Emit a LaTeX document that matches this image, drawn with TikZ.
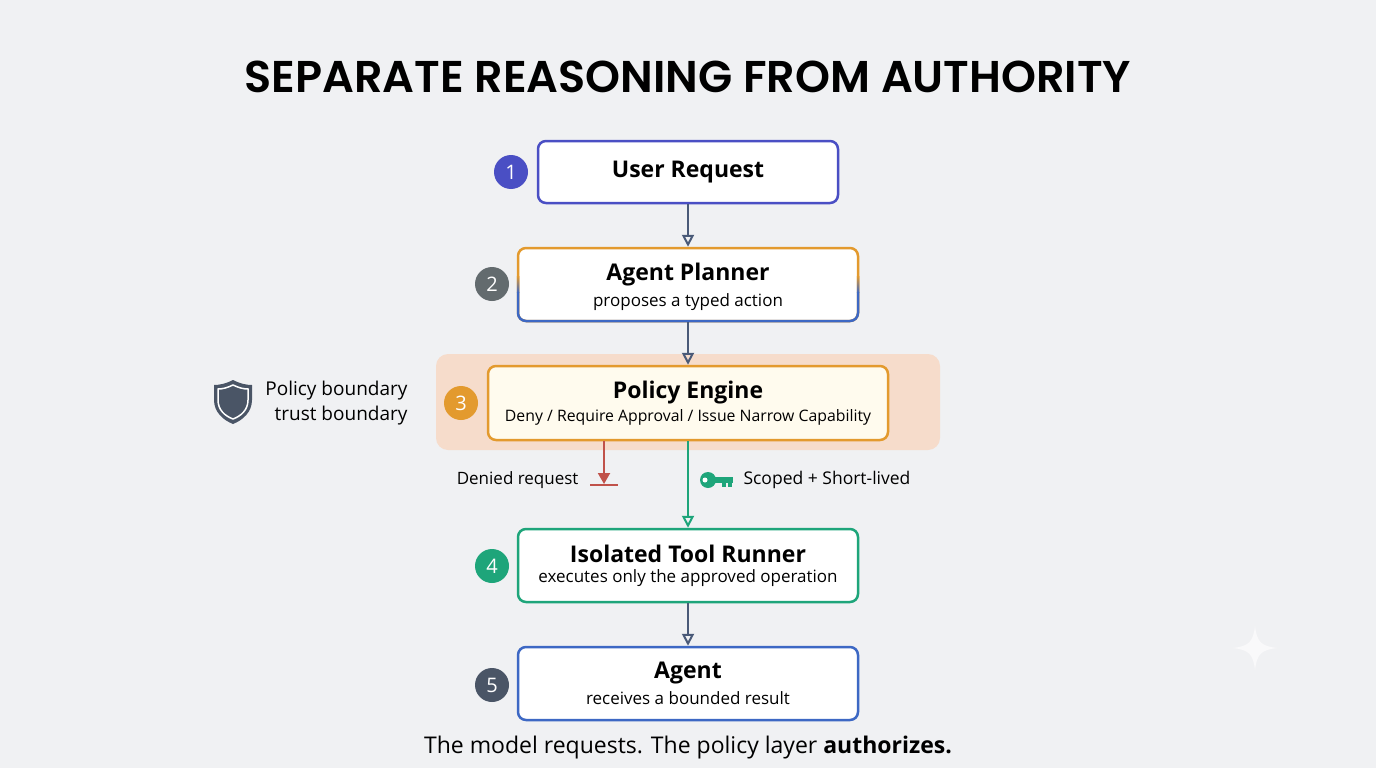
\documentclass[tikz,border=0pt]{standalone}
\usepackage{fontspec}
\setmainfont{Open Sans}
\newfontfamily\titlefont{Poppins}[UprightFont=* SemiBold]
\usetikzlibrary{arrows.meta}
\definecolor{bg}{HTML}{F0F1F3}
\definecolor{cblue}{HTML}{4A4FC4}
\definecolor{cblue2}{HTML}{3D68C4}
\definecolor{corange}{HTML}{E39A2E}
\definecolor{cgreen}{HTML}{1EA57A}
\definecolor{cgray}{HTML}{636B6E}
\definecolor{cslate}{HTML}{4A5566}
\definecolor{carrow}{HTML}{4A5A78}
\definecolor{cred}{HTML}{C0524A}
\definecolor{cpeach}{HTML}{F6DCCB}
\definecolor{cpale}{HTML}{FFFBEE}
\newcommand{\bt}[2]{{\fontsize{23}{26}\selectfont\bfseries #1}\\[6pt]{\fontsize{17}{20}\selectfont #2}}
\begin{document}
\begin{tikzpicture}[x=1pt,y=-1pt,
  box/.style={draw,line width=2.5pt,rounded corners=8pt,fill=white,minimum height=62pt,align=center,inner sep=0pt},
  num/.style={circle,minimum size=34pt,inner sep=0pt,text=white,font=\fontsize{20}{20}\selectfont},
  flow/.style={carrow,line width=2pt,-{Triangle[open,length=12pt,width=12pt,line width=2pt]}},
  sub/.style={font=\fontsize{17.5}{20}\selectfont}]
\useasboundingbox (0,0) rectangle (1376,768);
\fill[bg] (0,0) rectangle (1376,768);
\node[font=\titlefont\fontsize{44.5}{44}\selectfont] (title) at (688,77) {SEPARATE REASONING FROM AUTHORITY};
% policy background
\fill[cpeach,rounded corners=12pt] (436,354) rectangle (940,450);
\node[box,draw=cblue,minimum width=300pt] (b1) at (688,172) {\fontsize{23}{26}\selectfont\bfseries User Request};
\node[box,draw=corange,minimum width=340pt,minimum height=73pt] (b2) at (688,284.5) {};
\begin{scope}
\clip (500,292) rectangle (880,340);
\draw[cblue2,line width=2.5pt,rounded corners=8pt] (518,248) rectangle (858,321);
\end{scope}
\shade[top color=corange,bottom color=cblue2] (516.75,276) rectangle (519.25,292.5) (856.75,276) rectangle (859.25,292.5);
\node[align=center] (t2) at (688,287) {\bt{Agent Planner}{proposes a typed action}};
\node[box,draw=corange,fill=cpale,minimum width=400pt,minimum height=74pt] (b3) at (688,403) {{\fontsize{23}{26}\selectfont\bfseries Policy Engine}\\[5pt]{\fontsize{15.8}{19}\selectfont Deny / Require Approval / Issue Narrow Capability}};
\node[box,draw=cgreen,minimum width=340pt,minimum height=73pt] (b4) at (688,565.5) {\bt{Isolated Tool Runner}{executes only the approved operation}};
\node[box,draw=cblue2,minimum width=340pt,minimum height=73pt] (b5) at (688,683.5) {\bt{Agent}{receives a bounded result}};
\node[num,fill=cblue] (n1) at (511,172) {1};
\node[num,fill=cgray] (n2) at (492,284) {2};
\node[num,fill=corange] (n3) at (461,403) {3};
\node[num,fill=cgreen] (n4) at (492,566) {4};
\node[num,fill=cslate] (n5) at (492,685) {5};
\draw[flow] (b1) -- (b2);
\draw[flow] (b2) -- (b3);
\draw[flow] (b4) -- (b5);
\draw[flow,cgreen] (b3.south) -- (b4.north);
% denied
\coordinate (dstop) at (604,484);
\draw[cred,line width=2pt,-{Triangle[length=11pt,width=12pt]}] (604,441) -- (dstop);
\draw[cred,line width=2.5pt] (590,485) -- (618,485);
\node[anchor=east,font=\fontsize{17}{20}\selectfont] (den) at (582,480) {Denied request};
% key
\begin{scope}[cgreen]
\fill (708,480) circle (8pt);
\fill[white] (705,480) circle (2.5pt);
\fill (714,477) rectangle (733,483);
\fill (722,483) rectangle (726,487);
\fill (728,483) rectangle (732,487);
\end{scope}
\node[anchor=west,sub] (sc) at (740,480) {Scoped + Short-lived};
% shield
\fill[cslate] (233,380) .. controls (241,384) and (247,385) .. (252,385) -- (252,400) .. controls (252,412) and (243,420) .. (233,424) .. controls (223,420) and (214,412) .. (214,400) -- (214,385) .. controls (219,385) and (225,384) .. (233,380) -- cycle;
\draw[white,line width=1.5pt] (233,385) .. controls (239,388) and (244,389) .. (248,389) -- (248,400) .. controls (248,410) and (241,416) .. (233,419) .. controls (225,416) and (218,410) .. (218,400) -- (218,389) .. controls (222,389) and (227,388) .. (233,385) -- cycle;
\node[anchor=east,align=right,font=\fontsize{19}{24.5}\selectfont] (pb) at (411,403) {Policy boundary\\trust boundary};
\node[font=\fontsize{23}{24}\selectfont] (foot) at (688,748) {The model requests. The policy layer \textbf{authorizes.}};
% faint star
\fill[white!60!bg] (1255,626) .. controls (1257,642) and (1261,646) .. (1277,648) .. controls (1261,650) and (1257,654) .. (1255,670) .. controls (1253,654) and (1249,650) .. (1233,648) .. controls (1249,646) and (1253,642) .. (1255,626) -- cycle;
\end{tikzpicture}
\end{document}
